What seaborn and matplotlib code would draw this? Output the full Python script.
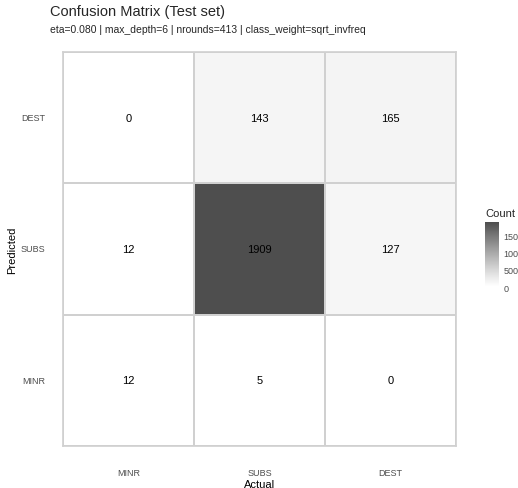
import numpy as np
import pandas as pd
import matplotlib
matplotlib.use("Agg")
import matplotlib.pyplot as plt
import seaborn as sns
from matplotlib.colors import LinearSegmentedColormap

# Confusion matrix: rows = predicted class (top to bottom), columns = actual class
actual_labels = ["MINR", "SUBS", "DEST"]
predicted_labels = ["DEST", "SUBS", "MINR"]
row_dest = [0, 143, 165]
row_subs = [12, 1909, 127]
row_minr = [12, 5, 0]
cbar_ticks = [0, 500, 1000, 1500]

cm = pd.DataFrame([row_dest, row_subs, row_minr],
                  index=predicted_labels, columns=actual_labels)

sns.set_theme(style="white")
plt.rcParams["font.family"] = ["Liberation Sans", "DejaVu Sans"]

fig = plt.figure(figsize=(5.18, 4.89), dpi=100)
ax = fig.add_axes([63 / 518, 1 - 447 / 489, 393 / 518, 394 / 489])
cax = fig.add_axes([485 / 518, 1 - 288 / 489, 14 / 518, 65 / 489])

cmap = LinearSegmentedColormap.from_list("grey_fill", ["#ffffff", "#4e4e4e"],
                                         gamma=1.12)
sns.heatmap(cm, ax=ax, cbar_ax=cax, cmap=cmap, vmin=0, vmax=cm.values.max(),
            annot=True, fmt="d", annot_kws={"color": "black", "fontsize": 8},
            linewidths=1.2, linecolor="#d0d0d0", square=False,
            cbar_kws={"ticks": cbar_ticks})

for t in ax.texts:
    t.set_color("black")

for s in ax.spines.values():
    s.set_visible(True)
    s.set_color("#d0d0d0")
    s.set_linewidth(1.2)

ax.tick_params(axis="both", length=0, labelsize=6.5, labelcolor="#4d4d4d")
ax.tick_params(axis="x", pad=16)
ax.tick_params(axis="y", pad=13)
plt.setp(ax.get_yticklabels(), rotation=0)
ax.set_xlabel("Actual", fontsize=8, color="black", labelpad=1)
ax.set_ylabel("Predicted", fontsize=8, color="black", labelpad=2)

cax.tick_params(length=3, color="white", direction="in", labelsize=6.5,
                labelcolor="#4d4d4d", pad=3)
cax.yaxis.set_ticklabels(["0", "500", "1000", "1500"])
for s in cax.spines.values():
    s.set_visible(False)
cax.set_title("Count", fontsize=8, loc="left", pad=4, x=0.05)

fig.text(50 / 518, 1 - 12 / 489, "Confusion Matrix (Test set)",
         fontsize=10.5, va="center", ha="left")
fig.text(50 / 518, 1 - 30 / 489,
         "eta=0.080 | max_depth=6 | nrounds=413 | class_weight=sqrt_invfreq",
         fontsize=7.5, va="center", ha="left")

fig.savefig("out.png", dpi=100)
